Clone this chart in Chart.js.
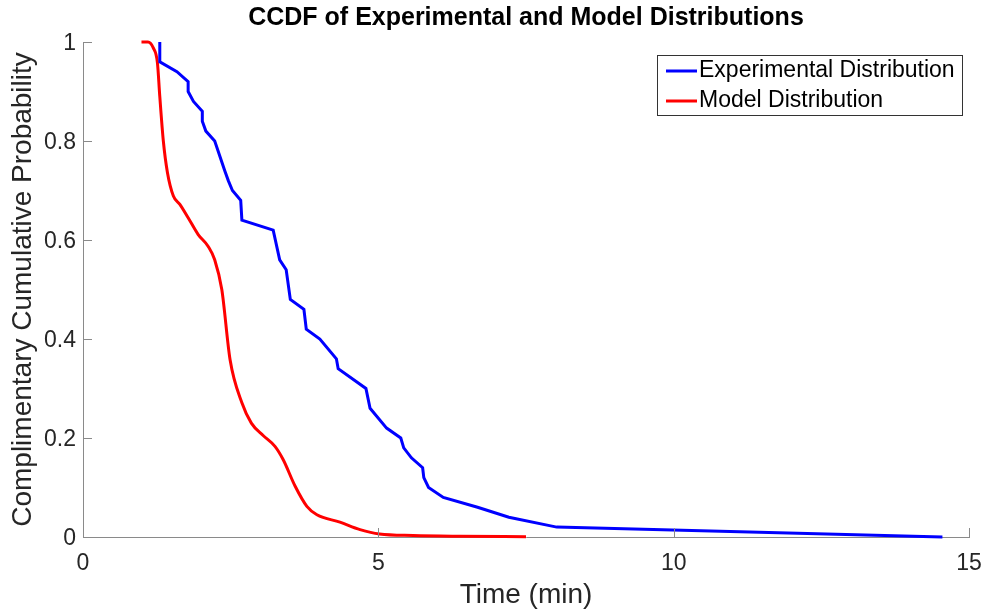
<!DOCTYPE html>
<html>
<head>
<meta charset="utf-8">
<script src="https://cdn.jsdelivr.net/npm/chart.js@4"></script>
<style>
  html, body { margin: 0; padding: 0; background: #fff; }
  canvas { display: block; }
</style>
</head>
<body>
<canvas id="ccdfChart" width="986" height="613"></canvas>
<script>
const expTime = [1.30, 1.30, 1.59, 1.78, 1.78, 1.87, 2.02, 2.02, 2.08, 2.23, 2.40, 2.46, 2.53, 2.67, 2.69,
                 3.22, 3.33, 3.44, 3.51, 3.74, 3.78, 4.01, 4.29, 4.32, 4.79, 4.86, 5.14, 5.38, 5.43, 5.56,
                 5.75, 5.77, 5.85, 6.10, 6.68, 7.21, 8.02, 14.55];
const expProb = [1.00, 0.96, 0.94, 0.92, 0.90, 0.88, 0.86, 0.84, 0.82, 0.80, 0.74, 0.72, 0.70, 0.68, 0.64,
                 0.62, 0.56, 0.54, 0.48, 0.46, 0.42, 0.40, 0.36, 0.34, 0.30, 0.26, 0.22, 0.20, 0.18, 0.16,
                 0.14, 0.12, 0.10, 0.08, 0.06, 0.04, 0.02, 0.0];

// model CCDF (smooth curve)
const modelTime = [0.99, 1.10, 1.19, 1.26, 1.30, 1.36, 1.43, 1.53, 1.64, 1.78, 1.95, 2.12, 2.23, 2.35, 2.49,
                   2.69, 2.85, 3.05, 3.25, 3.39, 3.59, 3.79, 3.96, 4.35, 4.69, 5.02, 5.59, 6.38, 7.50];
const modelProb = [1.00, 1.00, 0.988, 0.958, 0.89, 0.80, 0.736, 0.689, 0.672, 0.645, 0.611, 0.587, 0.56, 0.50, 0.358,
                   0.271, 0.23, 0.205, 0.183, 0.156, 0.103, 0.062, 0.045, 0.03, 0.015, 0.006, 0.003, 0.0015, 0.0005];

const xTicks = [0, 5, 10, 15];
const yTicks = [0, 0.2, 0.4, 0.6, 0.8, 1];

const FONT = "'Liberation Sans', Arial, Helvetica, sans-serif";
const TXT = '#262626';
const AXIS = '#8a8a8a';

function toPoints(xs, ys) {
    return xs.map((x, i) => ({x: x, y: ys[i]}));
}

// matlab style ticks pointing into the plot
const inwardTicks = {
    id: 'inwardTicks',
    afterDraw(chart) {
        const {ctx, chartArea} = chart;
        const x = chart.scales.x, y = chart.scales.y;
        ctx.save();
        ctx.strokeStyle = AXIS;
        ctx.lineWidth = 1;
        ctx.beginPath();
        x.ticks.forEach((t, i) => {
            const px = Math.round(x.getPixelForTick(i)) + 0.5;
            ctx.moveTo(px, chartArea.bottom);
            ctx.lineTo(px, chartArea.bottom - 9);
        });
        y.ticks.forEach((t, i) => {
            const py = Math.round(y.getPixelForTick(i)) + 0.5;
            ctx.moveTo(chartArea.left, py);
            ctx.lineTo(chartArea.left + 9, py);
        });
        ctx.stroke();
        ctx.restore();
    }
};

// boxed legend in the top right corner of the plot
const boxLegend = {
    id: 'boxLegend',
    afterDraw(chart) {
        const {ctx, chartArea} = chart;
        const sets = chart.data.datasets;
        ctx.save();
        ctx.font = '23px ' + FONT;
        const textW = Math.max(...sets.map(d => ctx.measureText(d.label).width));
        const lineLen = 31, padL = 9, gap = 2, padR = 7, rowH = 30;
        const w = Math.round(padL + lineLen + gap + textW + padR);
        const h = rowH * sets.length;
        const right = chartArea.right - 7;
        const top = chartArea.top + 13;
        const left = right - w;
        ctx.fillStyle = '#fff';
        ctx.fillRect(left, top, w, h);
        ctx.strokeStyle = '#333';
        ctx.lineWidth = 1;
        ctx.strokeRect(left + 0.5, top + 0.5, w, h);
        sets.forEach((d, i) => {
            const cy = top + 1 + rowH * (i + 0.5);
            ctx.strokeStyle = d.borderColor;
            ctx.lineWidth = 3;
            ctx.beginPath();
            ctx.moveTo(left + padL, cy);
            ctx.lineTo(left + padL + lineLen, cy);
            ctx.stroke();
            ctx.fillStyle = '#000';
            ctx.textBaseline = 'middle';
            ctx.textAlign = 'left';
            ctx.fillText(d.label, left + padL + lineLen + gap, cy);
        });
        ctx.restore();
    }
};

const ctx = document.getElementById('ccdfChart').getContext('2d');

new Chart(ctx, {
    type: 'line',
    data: {
        datasets: [
            {
                label: 'Experimental Distribution',
                data: toPoints(expTime, expProb),
                borderColor: '#0000ff',
                borderWidth: 3,
                tension: 0,
                pointRadius: 0,
                fill: false,
                clip: false
            },
            {
                label: 'Model Distribution',
                data: toPoints(modelTime, modelProb),
                borderColor: '#ff0000',
                borderWidth: 3,
                cubicInterpolationMode: 'monotone',
                pointRadius: 0,
                fill: false,
                clip: false
            }
        ]
    },
    options: {
        responsive: false,
        animation: false,
        layout: {padding: {top: 0, right: 17, bottom: 0, left: 0}},
        plugins: {
            legend: {display: false},
            tooltip: {enabled: false},
            title: {
                display: true,
                fullSize: false,
                text: 'CCDF of Experimental and Model Distributions',
                color: '#000',
                font: {family: FONT, size: 25, weight: 'bold'},
                padding: {top: 3, bottom: 9}
            }
        },
        scales: {
            x: {
                type: 'linear',
                min: 0,
                max: 15,
                afterBuildTicks: (s) => { s.ticks = xTicks.map(v => ({value: v})); },
                afterFit: (s) => { s.height = 76; s.paddingLeft = 0; s.paddingRight = 0; },
                grid: {display: true, drawOnChartArea: false, drawTicks: false},
                border: {display: true, color: AXIS, width: 1},
                ticks: {color: TXT, font: {family: FONT, size: 23}, padding: 13, maxRotation: 0},
                title: {display: true, text: 'Time (min)', color: TXT, font: {family: FONT, size: 28}, padding: {top: 0, bottom: 1}}
            },
            y: {
                type: 'linear',
                min: 0,
                max: 1,
                afterBuildTicks: (s) => { s.ticks = yTicks.map(v => ({value: v})); },
                afterFit: (s) => { s.width = 83; s.paddingTop = 0; s.paddingBottom = 0; },
                grid: {display: true, drawOnChartArea: false, drawTicks: false},
                border: {display: true, color: AXIS, width: 1},
                ticks: {
                    color: TXT,
                    font: {family: FONT, size: 23},
                    padding: 7,
                    labelOffset: 2,
                    callback: (v) => String(+v.toFixed(1))
                },
                title: {display: true, text: 'Complimentary Cumulative Probability', color: TXT, font: {family: FONT, size: 28}, padding: {top: 6, bottom: 0}}
            }
        }
    },
    plugins: [inwardTicks, boxLegend]
});
</script>
</body>
</html>
